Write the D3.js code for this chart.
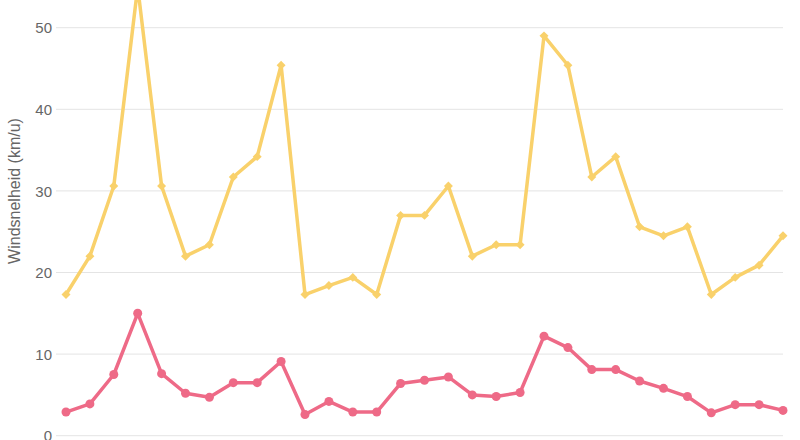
<!DOCTYPE html>
<html><head><meta charset="utf-8">
<script src="https://cdn.jsdelivr.net/npm/d3@7"></script>
<style>html,body{margin:0;padding:0;background:#fff;overflow:hidden}</style>
</head><body>
<svg id="c" width="800" height="440"></svg>
<script>
const days = d3.range(1, 32).map(d => "d" + d);
const gusts = [17.3, 22, 30.6, 55, 30.6, 22, 23.4, 31.7, 34.2, 45.4, 17.3, 18.4, 19.4, 17.3, 27, 27, 30.6, 22, 23.4, 23.4, 49, 45.4, 31.7, 34.2, 25.6, 24.5, 25.6, 17.3, 19.4, 20.9, 24.5];
const avgWind = [2.9, 3.9, 7.5, 15, 7.6, 5.2, 4.7, 6.5, 6.5, 9.1, 2.6, 4.2, 2.9, 2.9, 6.4, 6.8, 7.2, 5, 4.8, 5.3, 12.2, 10.8, 8.1, 8.1, 6.7, 5.8, 4.8, 2.8, 3.8, 3.8, 3.1];
const yTicks = [0, 10, 20, 30, 40, 50];
const yTitle = "Windsnelheid (km/u)";

const svg = d3.select("#c");
const left = 66, right = 783, zeroY = 435.7, fiftyY = 27.7;
const x = d3.scalePoint().domain(days).range([left, right]);
const y = d3.scaleLinear().domain([0, 50]).range([zeroY, fiftyY]);

const grid = svg.append("g");
grid.selectAll("line").data(yTicks).join("line")
  .attr("x1", 56).attr("x2", right)
  .attr("y1", d => y(d)).attr("y2", d => y(d))
  .attr("stroke", "#e4e4e4").attr("stroke-width", 1);

const yAxis = d3.axisLeft(y).tickValues(yTicks).tickSize(0).tickPadding(0);
const ga = svg.append("g").attr("transform", "translate(52,0)").call(yAxis);
ga.select(".domain").remove();
ga.selectAll("text").attr("font-family", "Liberation Sans, Arial, sans-serif")
  .attr("font-size", 15).attr("fill", "#666").attr("dy", "0.35em");

svg.append("text").attr("transform", "translate(20,191) rotate(-90)")
  .attr("text-anchor", "middle").attr("font-family", "Liberation Sans, Arial, sans-serif")
  .attr("font-size", 16).attr("fill", "#666").text(yTitle);

const line = d3.line().x((d, i) => x(days[i])).y(d => y(d));
const yellow = "#f9d16b", pink = "#ee6a87";

svg.append("path").datum(gusts).attr("d", line).attr("fill", "none")
  .attr("stroke", yellow).attr("stroke-width", 3.5).attr("stroke-linejoin", "round");
svg.append("g").selectAll("path").data(gusts).join("path")
  .attr("d", d3.symbol(d3.symbolSquare, 40)())
  .attr("transform", (d, i) => `translate(${x(days[i])},${y(d)}) rotate(45)`)
  .attr("fill", yellow);

svg.append("path").datum(avgWind).attr("d", line).attr("fill", "none")
  .attr("stroke", pink).attr("stroke-width", 3.5).attr("stroke-linejoin", "round");
svg.append("g").selectAll("circle").data(avgWind).join("circle")
  .attr("cx", (d, i) => x(days[i])).attr("cy", d => y(d)).attr("r", 4.5)
  .attr("fill", pink);
</script>
</body></html>
